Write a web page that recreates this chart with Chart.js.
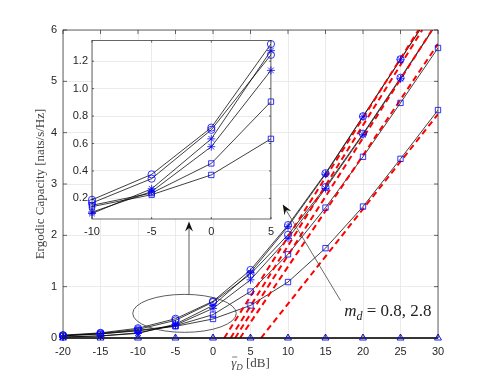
<!DOCTYPE html>
<html><head><meta charset="utf-8">
<script src="https://cdn.jsdelivr.net/npm/chart.js@4/dist/chart.umd.min.js"></script>
<style>
html,body{margin:0;padding:0;background:#fff;}
#wrap{position:relative;width:485px;height:379px;overflow:hidden;}
#main{position:absolute;left:0;top:0;}
#inset{position:absolute;left:60px;top:30px;}
</style></head><body>
<div id="wrap"><canvas id="main" width="485" height="379"></canvas><canvas id="inset" width="220" height="215"></canvas></div>
<script>
// ---- data ----
const snrDb = [-20, -15, -10, -5, 0, 5, 10, 15, 20, 25, 30];
const capCircleHigh = [0.055, 0.10, 0.19, 0.375, 0.716, 1.325, 2.20, 3.21, 4.32, 5.43, 6.55];
const capStarHigh   = [0.02, 0.04, 0.09, 0.27, 0.634, 1.277, 2.17, 3.19, 4.31, 5.42, 6.54];
const capCircleLow  = [0.05, 0.09, 0.167, 0.344, 0.70, 1.246, 2.01, 2.94, 3.98, 5.07, 6.17];
const capStarLow    = [0.02, 0.04, 0.10, 0.25, 0.577, 1.133, 1.94, 2.91, 3.96, 5.05, 6.16];
const capSquareHigh = [0.04, 0.08, 0.15, 0.239, 0.455, 0.905, 1.63, 2.54, 3.53, 4.58, 5.65];
const capSquareLow  = [0.045, 0.08, 0.14, 0.227, 0.371, 0.634, 1.09, 1.75, 2.56, 3.49, 4.44];
const capTriangle   = [0, 0, 0, 0, 0, 0, 0, 0, 0, 0, 0];
// high-SNR asymptotes (red dashed): start point on the 0 axis and end point
const asymStartDb  = [1.5, 2.35, 2.95, 3.6, 6.4];
const asymStartCap = [0, 0, 0, 0, 0];
const asymEndDb    = [27.4, 27.9, 29.2, 30, 30];
const asymEndCap   = [6, 6, 6, 5.73, 4.36];
// tick labels
const xTicks = [-20, -15, -10, -5, 0, 5, 10, 15, 20, 25, 30];
const yTicks = [0, 1, 2, 3, 4, 5, 6];
const insetXTicks = [-10, -5, 0, 5];
const insetYTicks = [0.2, 0.4, 0.6, 0.8, 1, 1.2];
const insetFirst = 2, insetLast = 5; // indices of -10 .. 5 dB

// ---- styling ----
Chart.defaults.font.family = '"Liberation Sans", Arial, sans-serif';
Chart.defaults.font.size = 11;
Chart.defaults.color = '#262626';
const AX = '#262626', GRID = '#e6e6e6', BLUE = '#0000ff';

const curves = [
  {v: capCircleHigh, m: 'circle', r: 3.6},
  {v: capStarHigh, m: 'star', r: 4},
  {v: capCircleLow, m: 'circle', r: 3.6},
  {v: capStarLow, m: 'star', r: 4},
  {v: capSquareHigh, m: 'rect', r: 3.8},
  {v: capSquareLow, m: 'rect', r: 3.8},
];
const pts = (xs, ys) => xs.map((x, i) => ({x, y: ys[i]}));

function frameTicks(chart, len) {
  const {ctx, chartArea: a, scales: {x, y}} = chart;
  ctx.save();
  ctx.strokeStyle = AX; ctx.lineWidth = 0.7;
  ctx.strokeRect(a.left, a.top, a.right - a.left, a.bottom - a.top);
  ctx.beginPath();
  x.ticks.forEach(t => {
    const p = x.getPixelForValue(t.value);
    ctx.moveTo(p, a.bottom); ctx.lineTo(p, a.bottom - len);
    ctx.moveTo(p, a.top); ctx.lineTo(p, a.top + len);
  });
  y.ticks.forEach(t => {
    const p = y.getPixelForValue(t.value);
    ctx.moveTo(a.left, p); ctx.lineTo(a.left + len, p);
    ctx.moveTo(a.right, p); ctx.lineTo(a.right - len, p);
  });
  ctx.stroke(); ctx.restore();
}

function drawParts(ctx, parts, x, y, align) {
  let w = 0;
  parts.forEach(p => { ctx.font = p.font; p.w = ctx.measureText(p.t).width; w += p.w; });
  let cx = align === 'center' ? x - w / 2 : x;
  const pos = [];
  parts.forEach(p => { ctx.font = p.font; ctx.fillText(p.t, cx, y + (p.dy || 0)); pos.push(cx); cx += p.w; });
  return pos;
}

function arrow(ctx, x0, y0, x1, y1) {
  const dx = x1 - x0, dy = y1 - y0, L = Math.hypot(dx, dy);
  const ux = dx / L, uy = dy / L, nx = -uy, ny = ux;
  const hl = 10, hw = 4;
  ctx.beginPath(); ctx.moveTo(x0, y0); ctx.lineTo(x1 - ux * 5, y1 - uy * 5); ctx.stroke();
  ctx.beginPath();
  ctx.moveTo(x1, y1);
  ctx.lineTo(x1 - ux * hl + nx * hw, y1 - uy * hl + ny * hw);
  ctx.lineTo(x1 - ux * hl * 0.65, y1 - uy * hl * 0.65);
  ctx.lineTo(x1 - ux * hl - nx * hw, y1 - uy * hl - ny * hw);
  ctx.closePath(); ctx.fill();
}

// annotation geometry in data units
const zoomEllipse = {cx: -3.8, cy: 0.48, rx: 6.9, ry: 0.37};
const zoomArrow = {x0: -3.2, y0: 0.85, x1: -3.2, y1: 2.27};
const mdArrow = {x0: 17.0, y0: 0.73, x1: 9.3, y1: 2.6};
const mdLabelPos = {x: 17.5, y: 0.42};

const mainPlugin = {
  id: 'mainDeco',
  afterDatasetsDraw(chart) {
    frameTicks(chart, 4);
    const {ctx, scales: {x, y}} = chart;
    ctx.save();
    ctx.strokeStyle = '#333'; ctx.fillStyle = '#111'; ctx.lineWidth = 0.8;
    const e = zoomEllipse;
    const ecx = x.getPixelForValue(e.cx), ecy = y.getPixelForValue(e.cy);
    ctx.beginPath();
    ctx.ellipse(ecx, ecy, Math.abs(x.getPixelForValue(e.cx + e.rx) - ecx), Math.abs(y.getPixelForValue(e.cy + e.ry) - ecy), 0, 0, Math.PI * 2);
    ctx.stroke();
    arrow(ctx, x.getPixelForValue(zoomArrow.x0), y.getPixelForValue(zoomArrow.y0), x.getPixelForValue(zoomArrow.x1), y.getPixelForValue(zoomArrow.y1));
    ctx.strokeStyle = '#444';
    arrow(ctx, x.getPixelForValue(mdArrow.x0), y.getPixelForValue(mdArrow.y0), x.getPixelForValue(mdArrow.x1), y.getPixelForValue(mdArrow.y1));
    // m_d label
    ctx.fillStyle = '#222'; ctx.textBaseline = 'alphabetic';
    drawParts(ctx, [
      {t: 'm', font: 'italic 17px "Liberation Serif", serif'},
      {t: 'd', font: 'italic 12px "Liberation Serif", serif', dy: 4},
      {t: ' = 0.8, 2.8', font: '17px "Liberation Serif", serif'}
    ], x.getPixelForValue(mdLabelPos.x), y.getPixelForValue(mdLabelPos.y), 'left');
    // axis titles
    ctx.fillStyle = '#444';
    const pos = drawParts(ctx, [
      {t: 'γ', font: 'italic 13px "Liberation Serif", serif'},
      {t: 'D', font: 'italic 9px "Liberation Serif", serif', dy: 3},
      {t: ' [dB]', font: '13px "Liberation Serif", serif'}
    ], (chart.chartArea.left + chart.chartArea.right) / 2, 367, 'center');
    ctx.font = 'italic 13px "Liberation Serif", serif';
    const gw = ctx.measureText('γ').width;
    ctx.lineWidth = 0.7; ctx.strokeStyle = '#444';
    ctx.beginPath(); ctx.moveTo(pos[0] + 1, 357); ctx.lineTo(pos[0] + gw + 1, 357); ctx.stroke();
    ctx.translate(41, (chart.chartArea.top + chart.chartArea.bottom) / 2);
    ctx.rotate(-Math.PI / 2);
    ctx.textAlign = 'center'; ctx.textBaseline = 'middle';
    ctx.font = '13px "Liberation Serif", serif';
    ctx.fillText('Ergodic Capacity [nats/s/Hz]', 0, 0);
    ctx.restore();
  }
};

const mainDatasets = [];
curves.forEach(c => {
  mainDatasets.push({data: pts(snrDb, c.v), borderColor: '#000', borderWidth: 0.75, pointRadius: 0, order: 3});
  mainDatasets.push({data: pts(snrDb, c.v), showLine: false, pointStyle: c.m, pointRadius: c.r,
    pointBorderColor: BLUE, pointBackgroundColor: 'rgba(0,0,0,0)', pointBorderWidth: 0.8, order: 1,
    clip: {left: 8, right: 8, top: 0, bottom: 8}});
});
asymStartDb.forEach((s, i) => {
  mainDatasets.push({data: [{x: s, y: asymStartCap[i]}, {x: asymEndDb[i], y: asymEndCap[i]}],
    borderColor: '#ff0000', borderWidth: 2, borderDash: [6, 4], pointRadius: 0, order: 2});
});
mainDatasets.push({data: pts(snrDb, capTriangle), borderColor: '#000', borderWidth: 1.3, pointStyle: 'triangle',
  pointRadius: 4, pointBorderColor: BLUE, pointBackgroundColor: 'rgba(0,0,0,0)', pointBorderWidth: 0.9, order: 0, clip: false});

new Chart(document.getElementById('main'), {
  type: 'line',
  data: {datasets: mainDatasets},
  options: {
    responsive: false, animation: false, devicePixelRatio: 1,
    layout: {padding: {left: 0, top: 30, right: 47, bottom: 0}},
    plugins: {legend: {display: false}, tooltip: {enabled: false}},
    scales: {
      x: {type: 'linear', min: -20, max: 30,
        afterBuildTicks: s => { s.ticks = xTicks.map(v => ({value: v})); },
        afterFit: s => { s.height = 41; },
        ticks: {padding: 7, maxRotation: 0, autoSkip: false},
        grid: {color: GRID, lineWidth: 0.8, drawTicks: false}, border: {display: false}},
      y: {type: 'linear', min: 0, max: 6,
        afterBuildTicks: s => { s.ticks = yTicks.map(v => ({value: v})); },
        afterFit: s => { s.width = 63; },
        ticks: {padding: 6, autoSkip: false},
        grid: {color: GRID, lineWidth: 0.8, drawTicks: false}, border: {display: false}}
    }
  },
  plugins: [mainPlugin]
});

// ---- inset ----
const insetX = snrDb.slice(insetFirst, insetLast + 1);
const insetDatasets = [];
curves.forEach(c => {
  const ys = c.v.slice(insetFirst, insetLast + 1);
  insetDatasets.push({data: pts(insetX, ys), borderColor: '#000', borderWidth: 0.75, pointRadius: 0, order: 2});
  insetDatasets.push({data: pts(insetX, ys), showLine: false, pointStyle: c.m, pointRadius: c.r,
    pointBorderColor: BLUE, pointBackgroundColor: 'rgba(0,0,0,0)', pointBorderWidth: 0.8, order: 1, clip: false});
});
new Chart(document.getElementById('inset'), {
  type: 'line',
  data: {datasets: insetDatasets},
  options: {
    responsive: false, animation: false, devicePixelRatio: 1,
    layout: {padding: {left: 0, top: 8, right: 9, bottom: 0}},
    plugins: {legend: {display: false}, tooltip: {enabled: false}},
    scales: {
      x: {type: 'linear', min: -10, max: 5,
        afterBuildTicks: s => { s.ticks = insetXTicks.map(v => ({value: v})); },
        afterFit: s => { s.height = 26; },
        ticks: {padding: 6, maxRotation: 0, autoSkip: false},
        grid: {color: GRID, lineWidth: 0.8, drawTicks: false}, border: {display: false}},
      y: {type: 'linear', min: 0.05, max: 1.35,
        afterBuildTicks: s => { s.ticks = insetYTicks.map(v => ({value: v})); },
        afterFit: s => { s.width = 32; },
        ticks: {padding: 4, autoSkip: false},
        grid: {color: GRID, lineWidth: 0.8, drawTicks: false}, border: {display: false}}
    }
  },
  plugins: [{
    id: 'insetDeco',
    beforeDraw(chart) {
      const {ctx, chartArea: a} = chart;
      ctx.save(); ctx.fillStyle = '#fff'; ctx.fillRect(a.left, a.top, a.right - a.left, a.bottom - a.top); ctx.restore();
    },
    afterDatasetsDraw(chart) { frameTicks(chart, 2); }
  }]
});
</script>
</body></html>
